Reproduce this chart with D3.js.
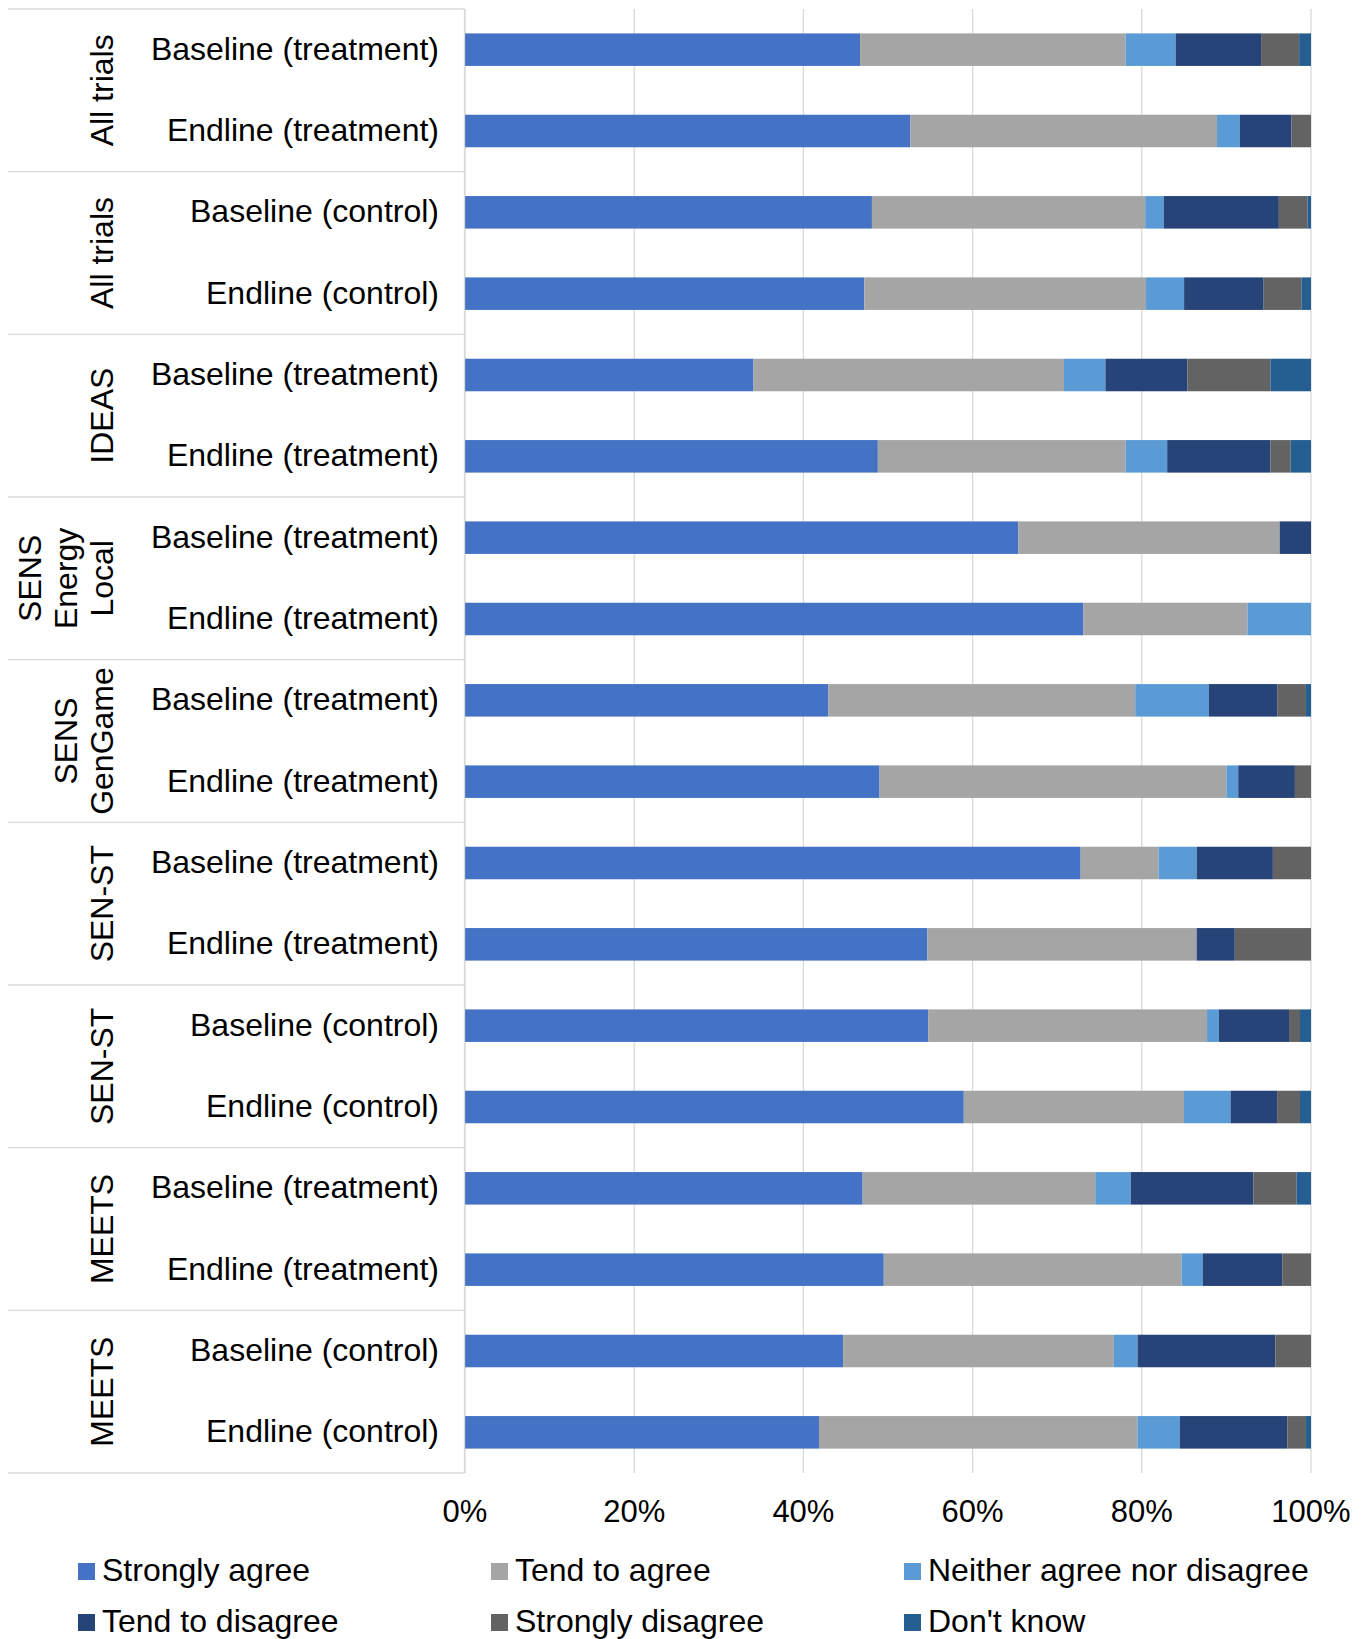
<!DOCTYPE html>
<html>
<head>
<meta charset="utf-8">
<script src="https://cdn.jsdelivr.net/npm/d3@7"></script>
<style>
  html, body { margin: 0; padding: 0; background: #fff; }
  svg { display: block; font-family: "Liberation Sans", Arial, sans-serif; }
</style>
</head>
<body>
<svg id="chart" width="1368" height="1639"></svg>
<script>
// ---- Data ----
const groupLabels = [
  ["All trials"], ["All trials"], ["IDEAS"], ["SENS", "Energy", "Local"],
  ["SENS", "GenGame"], ["SEN-ST"], ["SEN-ST"], ["MEETS"], ["MEETS"]
];
const categories = [
  "Baseline (treatment)", "Endline (treatment)",
  "Baseline (control)", "Endline (control)",
  "Baseline (treatment)", "Endline (treatment)",
  "Baseline (treatment)", "Endline (treatment)",
  "Baseline (treatment)", "Endline (treatment)",
  "Baseline (treatment)", "Endline (treatment)",
  "Baseline (control)", "Endline (control)",
  "Baseline (treatment)", "Endline (treatment)",
  "Baseline (control)", "Endline (control)"
];
const seriesNames = ["Strongly agree", "Tend to agree", "Neither agree nor disagree",
                     "Tend to disagree", "Strongly disagree", "Don't know"];
const stronglyAgree    = [46.7, 52.6, 48.1, 47.2, 34.1, 48.8, 65.4, 73.1, 43.0, 49.0, 72.7, 54.6, 54.8, 58.9, 47.0, 49.5, 44.7, 41.8];
const tendToAgree      = [31.4, 36.2, 32.3, 33.3, 36.7, 29.3, 30.9, 19.4, 36.3, 41.0,  9.2, 31.8, 33.0, 26.0, 27.5, 35.2, 32.0, 37.6];
const neither          = [ 5.9,  2.7,  2.2,  4.5,  4.9,  4.9,  0.0,  7.5,  8.7,  1.4,  4.5,  0.0,  1.4,  5.5,  4.2,  2.5,  2.8,  5.0];
const tendToDisagree   = [10.1,  6.1, 13.6,  9.4,  9.7, 12.2,  3.7,  0.0,  8.1,  6.7,  9.0,  4.5,  8.3,  5.5, 14.5,  9.4, 16.3, 12.7];
const stronglyDisagree = [ 4.5,  2.3,  3.4,  4.5,  9.8,  2.4,  0.0,  0.0,  3.4,  1.9,  4.5,  9.0,  1.3,  2.7,  5.1,  3.4,  4.2,  2.2];
const dontKnow         = [ 1.4,  0.0,  0.4,  1.1,  4.8,  2.4,  0.0,  0.0,  0.6,  0.0,  0.0,  0.0,  1.3,  1.3,  1.7,  0.0,  0.0,  0.6];
const tickValues = [0, 0.2, 0.4, 0.6, 0.8, 1.0];

// ---- Build table ----
const seriesArrays = [stronglyAgree, tendToAgree, neither, tendToDisagree, stronglyDisagree, dontKnow];
const rows = categories.map((c, i) => {
  const o = { idx: i, label: c };
  seriesNames.forEach((s, k) => { o[s] = seriesArrays[k][i]; });
  return o;
});
const colors = ["#4472C4", "#A5A5A5", "#5B9BD5", "#264478", "#636363", "#255E91"];

// ---- Layout ----
const plotLeft = 465, plotRight = 1311, plotTop = 9, plotBottom = 1473;
const font = 32;
const svg = d3.select("#chart");

const x = d3.scaleLinear().domain([0, 1]).range([plotLeft, plotRight]);
const y = d3.scaleBand().domain(d3.range(categories.length))
  .range([plotTop, plotBottom]).paddingInner(0.6).paddingOuter(0.3);
const gScale = d3.scaleBand().domain(d3.range(groupLabels.length))
  .range([plotTop, plotBottom]);

const stack = d3.stack().keys(seriesNames).offset(d3.stackOffsetExpand);
const stacked = stack(rows);

// gridlines
svg.append("g").selectAll("line").data(tickValues).join("line")
  .attr("x1", d => x(d)).attr("x2", d => x(d))
  .attr("y1", plotTop).attr("y2", plotBottom)
  .attr("stroke", "#d9d9d9").attr("stroke-width", 1.3);

// bars
svg.append("g").selectAll("g").data(stacked).join("g")
  .attr("fill", (d, i) => colors[i])
  .selectAll("rect").data(d => d).join("rect")
  .attr("x", d => x(d[0]))
  .attr("width", d => Math.max(0, x(d[1]) - x(d[0])))
  .attr("y", (d, i) => y(i))
  .attr("height", y.bandwidth());

// category axis: vertical line + group separators
const axisG = svg.append("g");
axisG.append("line")
  .attr("x1", plotLeft - 0.5).attr("x2", plotLeft - 0.5)
  .attr("y1", plotTop).attr("y2", plotBottom)
  .attr("stroke", "#d9d9d9").attr("stroke-width", 1.3);
const seps = d3.range(groupLabels.length + 1).map(i => plotTop + i * gScale.step());
axisG.selectAll("line.sep").data(seps).join("line").attr("class", "sep")
  .attr("x1", 8).attr("x2", plotLeft - 0.5)
  .attr("y1", d => d).attr("y2", d => d)
  .attr("stroke", "#d9d9d9").attr("stroke-width", 1.3);

// category labels
axisG.selectAll("text.cat").data(categories).join("text").attr("class", "cat")
  .attr("x", 439)
  .attr("y", (d, i) => y(i) + y.bandwidth() / 2 + 10)
  .attr("text-anchor", "end")
  .attr("font-size", font)
  .attr("fill", "#000")
  .text(d => d);

// group labels (rotated)
const lineGap = 36;
groupLabels.forEach((lines, gi) => {
  const cy = gScale(gi) + gScale.bandwidth() / 2;
  const t = axisG.append("text")
    .attr("transform", `translate(113,${cy}) rotate(-90)`)
    .attr("text-anchor", "middle")
    .attr("font-size", font)
    .attr("fill", "#000");
  const n = lines.length;
  lines.forEach((ln, li) => {
    t.append("tspan").attr("x", 0).attr("y", -(n - 1 - li) * lineGap).text(ln);
  });
});

// x axis tick labels
svg.append("g").selectAll("text").data(tickValues).join("text")
  .attr("x", d => x(d)).attr("y", 1522)
  .attr("text-anchor", "middle")
  .attr("font-size", 31)
  .attr("fill", "#000")
  .text(d => d3.format(".0%")(d));

// legend
const legX = [78, 491, 904];
const legY = [1581, 1632];
const leg = svg.append("g").selectAll("g").data(seriesNames).join("g")
  .attr("transform", (d, i) => `translate(${legX[i % 3]},${legY[Math.floor(i / 3)]})`);
leg.append("rect").attr("x", 0).attr("y", -18).attr("width", 17).attr("height", 17)
  .attr("fill", (d, i) => colors[i]);
leg.append("text").attr("x", 24).attr("y", 0)
  .attr("font-size", font).attr("fill", "#000")
  .text(d => d);
</script>
</body>
</html>
